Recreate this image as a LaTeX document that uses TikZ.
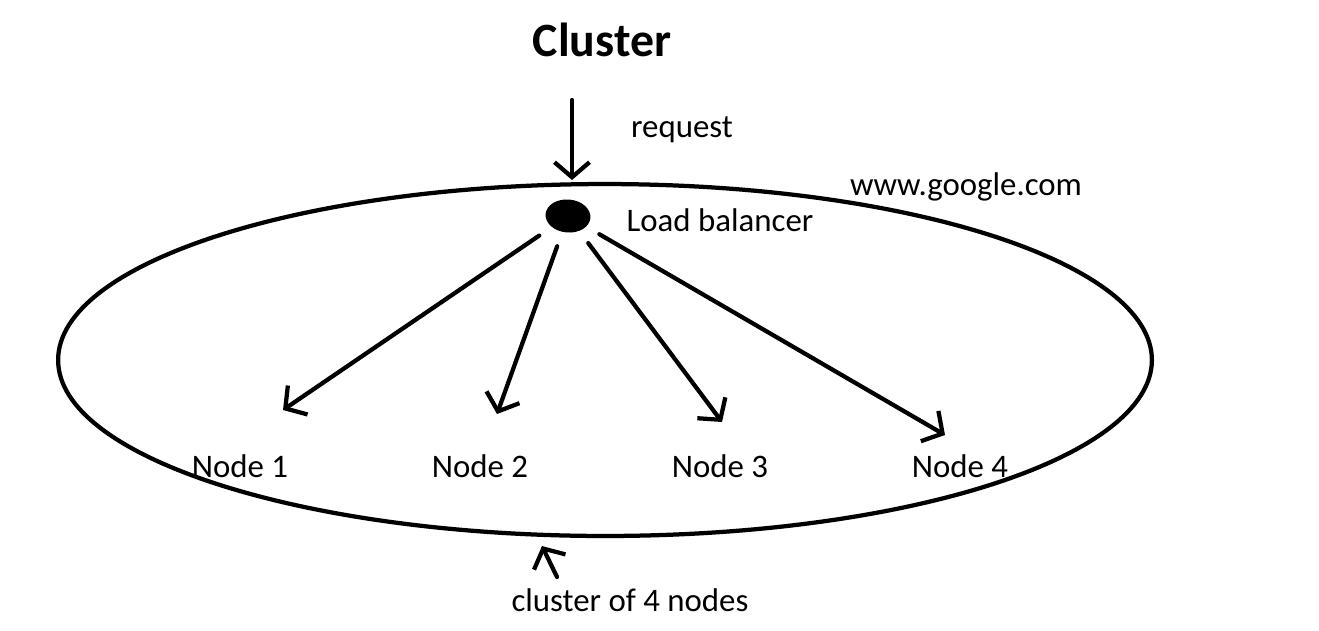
\documentclass[tikz,border=0pt]{standalone}
\usepackage{fontspec}
\setmainfont{Carlito}
\usetikzlibrary{arrows.meta,shapes.geometric}

\tikzset{
  pen/.style = {line width=0.085cm, line cap=round},
  link/.style = {pen, -{Straight Barb[length=0.3cm, width=0.7cm]}},
  txt/.style = {font=\fontsize{18.7}{21}\selectfont, inner sep=0pt},
}

\begin{document}
\begin{tikzpicture}[x=0.02cm, y=-0.02cm]
  \useasboundingbox (0, 0) rectangle (1319, 630);

  \node[font=\fontsize{27.2}{31}\selectfont\bfseries, inner sep=0pt]
    (title) at (602, 40) {Cluster};

  % the cluster itself
  \draw[pen] (605, 360) ellipse [x radius=10.94cm, y radius=3.52cm];

  % incoming request
  \coordinate (reqtop) at (572, 100);
  \coordinate (reqend) at (572, 180);
  \draw[link] (reqtop) -- (reqend);
  \node[txt] (request) at (682, 130) {request};
  \node[txt] (site) at (966, 187) {www.google.com};

  \node[ellipse, fill=black, minimum width=0.9cm, minimum height=0.66cm,
    inner sep=0pt, rotate=-5] (lb) at (568, 216) {};
  \node[txt] (lbtext) at (720, 220) {Load balancer};

  \node[txt] (n1) at (240, 466) {Node 1};
  \node[txt] (n2) at (480, 466) {Node 2};
  \node[txt] (n3) at (720, 466) {Node 3};
  \node[txt] (n4) at (960, 466) {Node 4};

  \coordinate (t1) at (283, 410);
  \coordinate (t2) at (497, 414);
  \coordinate (t3) at (722, 422);
  \coordinate (t4) at (945, 435);
  \foreach \t in {t1, t2, t3, t4}
    \draw[link, shorten <=0.3cm] (lb) -- (\t);

  % pointer to the ring
  \coordinate (ptail) at (557, 577);
  \coordinate (phead) at (542, 546);
  \draw[link] (ptail) -- (phead);
  \node[txt] (caption) at (630, 600) {cluster of 4 nodes};

\end{tikzpicture}
\end{document}
